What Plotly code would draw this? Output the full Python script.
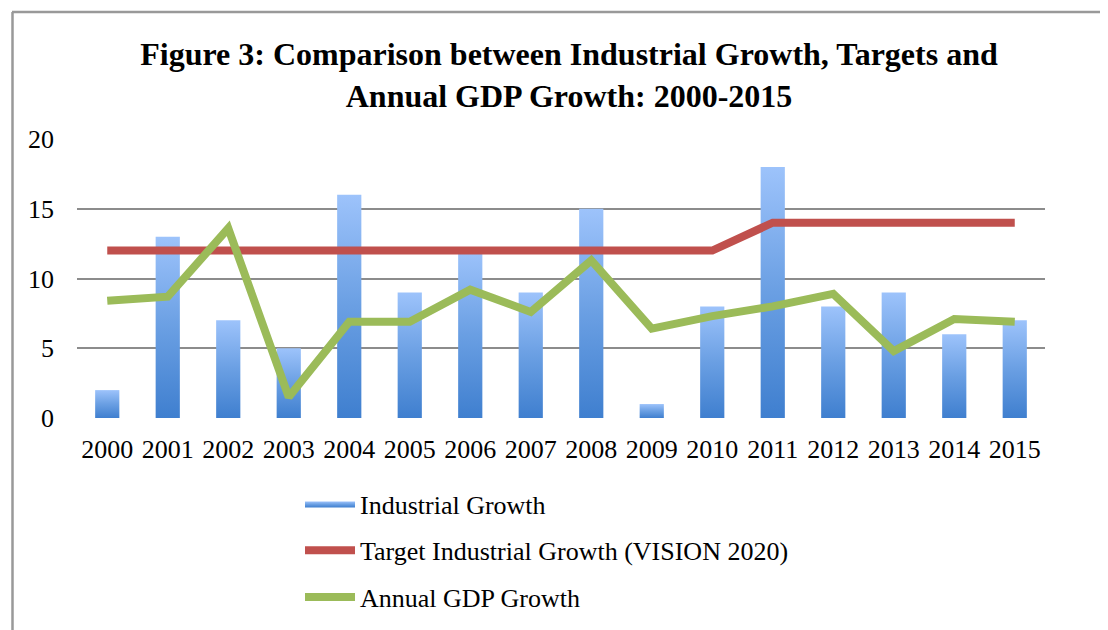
import plotly.graph_objects as go

years = [str(y) for y in range(2000, 2016)]
industrial = [2, 13, 7, 5, 16, 9, 12, 9, 15, 1, 8, 18, 8, 9, 6, 7]
target = [12, 12, 12, 12, 12, 12, 12, 12, 12, 12, 12, 14, 14, 14, 14, 14]
gdp = [8.4, 8.7, 13.6, 1.5, 6.9, 6.9, 9.2, 7.6, 11.3, 6.4, 7.3, 8.0, 8.9, 4.8, 7.1, 6.9]

SERIF = "Liberation Serif"
BAR_GRAD = [[0, "#3f7fcf"], [0.5, "#6a9fe3"], [1, "#9dc3fb"]]
half = 0.2

# the page body has an 8px margin, so the figure is laid out 8px smaller
OFF = 8
W, H = 1108 - OFF, 630 - OFF

fig = go.Figure()

# bars drawn as filled shapes so they can carry a vertical gradient
for i, v in enumerate(industrial):
    fig.add_trace(go.Scatter(
        x=[i - half, i + half, i + half, i - half, i - half],
        y=[0, 0, v, v, 0],
        mode="lines", fill="toself", line=dict(width=0),
        fillgradient=dict(type="vertical", colorscale=BAR_GRAD),
        name="Industrial Growth", legendgroup="ind", showlegend=(i == 0),
        hoverinfo="skip",
    ))

xs = list(range(len(years)))
fig.add_trace(go.Scatter(
    x=xs, y=target, mode="lines", name="Target Industrial Growth (VISION 2020)",
    line=dict(color="#c0504d", width=8), legendgroup="tgt",
))
fig.add_trace(go.Scatter(
    x=xs, y=gdp, mode="lines", name="Annual GDP Growth",
    line=dict(color="#9bbb59", width=8), legendgroup="gdp",
))

# plot area in page pixels: x 77..1045, y 139..418
L, R, T, B = 77 - OFF, W - (1045 - OFF), 139 - OFF, H - (418 - OFF)
pw, ph = W - L - R, H - T - B
px_x = lambda p: (p - OFF - L) / pw
px_y = lambda p: 1 - (p - OFF - T) / ph

fig.update_layout(
    width=W, height=H,
    margin=dict(l=L, r=R, t=T, b=B, autoexpand=False),
    paper_bgcolor="white", plot_bgcolor="white",
    title=dict(
        text="<b>Figure 3: Comparison between Industrial Growth, Targets and<br>Annual GDP Growth: 2000-2015</b>",
        x=px_x(569), xanchor="center", xref="paper",
        y=1 - (65 - OFF) / H, yanchor="middle", yref="container",
        font=dict(family=SERIF, size=32, color="black"),
    ),
    xaxis=dict(
        range=[-0.5, 15.5], tickvals=xs, ticktext=years,
        showgrid=False, zeroline=False, showline=False, ticks="",
        tickfont=dict(family=SERIF, size=26, color="black"),
        ticklabelstandoff=13,
    ),
    yaxis=dict(
        range=[0, 20], tickvals=[0, 5, 10, 15, 20],
        showgrid=True, gridcolor="#8c8c8c", gridwidth=1.5,
        zeroline=False, showline=False, ticks="",
        tickfont=dict(family=SERIF, size=26, color="black"),
        ticklabelstandoff=22,
    ),
    legend=dict(
        orientation="v", x=px_x(300), xanchor="left", y=px_y(480), yanchor="top",
        font=dict(family=SERIF, size=26, color="black"),
        itemwidth=50, tracegroupgap=10, bgcolor="rgba(0,0,0,0)",
    ),
    showlegend=True,
)

# outer chart frame (left and top edges visible in the crop)
fig.add_shape(type="line", xref="paper", yref="paper",
              x0=px_x(12.5), x1=px_x(12.5), y0=px_y(12), y1=px_y(640),
              line=dict(color="#999999", width=2.5))
fig.add_shape(type="line", xref="paper", yref="paper",
              x0=px_x(12), x1=px_x(1120), y0=px_y(12), y1=px_y(12),
              line=dict(color="#999999", width=2.5))

fig.write_html("out.html")
